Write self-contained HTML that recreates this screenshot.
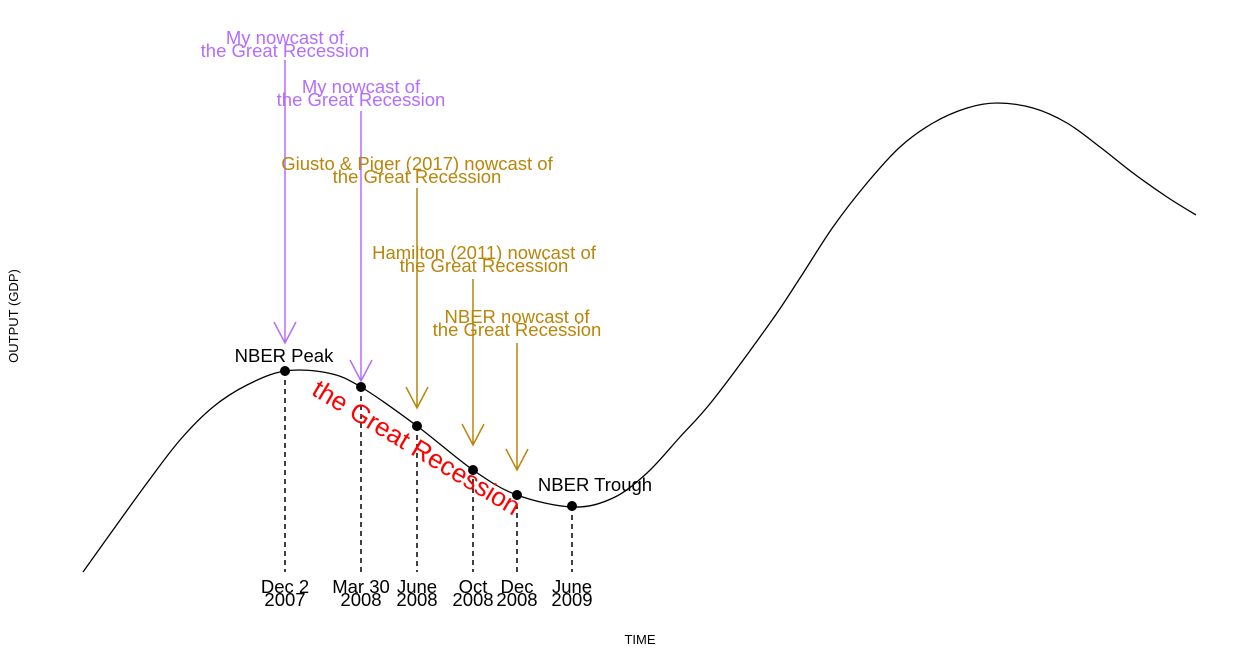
<!DOCTYPE html>
<html><head><meta charset="utf-8"><style>body{margin:0;background:#fff}svg{display:block;font-family:"Liberation Sans",sans-serif}</style></head>
<body>
<svg id="c" width="1259" height="655"></svg>
<script>
const curveX=[83,113,147,180,213,247,285,328,361,417,473,517,573,613,647,680,713,770,800,833,867,900,933,967,997,1033,1067,1100,1133,1167,1196];
const curveY=[572,530,483,440,407,385,371,373,387,426,470,495,507,498,473,437,400,323,278,227,183,147,123,108,103,108,123,147,173,197,215];
const eventX=[285,361,417,473,517,572];
const eventY=[371,387,426,470,495,506];
const eventLabel1=["Dec 2","Mar 30","June","Oct","Dec","June"];
const eventLabel2=["2007","2008","2008","2008","2008","2009"];
const arrowX=[285,361,417,473,517];
const arrowTop=[60,111,188,279,343];
const arrowTip=[343,381,408,445,470];
const arrowL1=["My nowcast of","My nowcast of","Giusto & Piger (2017) nowcast of","Hamilton (2011) nowcast of","NBER nowcast of"];
const arrowL2=["the Great Recession","the Great Recession","the Great Recession","the Great Recession","the Great Recession"];
const arrowTextX=[285,361,417,484,517];
const arrowTextY=[44,93,170,259,323];
const arrowColor=["#B46EFF","#B46EFF","#B8860B","#B8860B","#B8860B"];
const NS="http://www.w3.org/2000/svg",svg=document.getElementById('c');
function mk(t,a,p){const e=document.createElementNS(NS,t);for(const k in a)e.setAttribute(k,a[k]);(p||svg).appendChild(e);return e;}
let d="M"+curveX[0]+","+curveY[0];
for(let i=0;i<curveX.length-1;i++){const p0=i?i-1:i,p3=i+2<curveX.length?i+2:i+1;
 const c1x=curveX[i]+(curveX[i+1]-curveX[p0])/6,c1y=curveY[i]+(curveY[i+1]-curveY[p0])/6;
 const c2x=curveX[i+1]-(curveX[p3]-curveX[i])/6,c2y=curveY[i+1]-(curveY[p3]-curveY[i])/6;
 d+=` C${c1x},${c1y} ${c2x},${c2y} ${curveX[i+1]},${curveY[i+1]}`;}
const cv=mk('path',{d,fill:'none',stroke:'#000','stroke-width':1.3});


for(let i=0;i<eventX.length;i++){
 const l=mk('line',{x1:eventX[i],x2:eventX[i],y1:eventY[i],y2:572,stroke:'#000','stroke-width':1.5,'stroke-dasharray':'5,4'});
 
 
 const c=mk('circle',{cx:eventX[i],cy:eventY[i],r:5,fill:'#000'});
 
 
 const t=mk('text',{x:eventX[i],y:593,'font-size':18.5,'text-anchor':'middle'});t.textContent=eventLabel1[i];
 
 
 const t2=mk('text',{x:eventX[i],y:606,'font-size':18.5,'text-anchor':'middle'});t2.textContent=eventLabel2[i];
 
 
}
for(let i=0;i<arrowX.length;i++){
 const col=arrowColor[i],x=arrowX[i],y=arrowTip[i];
 const a=mk('path',{d:`M${x},${arrowTop[i]}V${y}M${x-11},${y-21}L${x},${y}L${x+11},${y-21}`,fill:'none',stroke:col,'stroke-width':1.5});
 
 
 const t=mk('text',{x:arrowTextX[i],y:arrowTextY[i],'font-size':18.5,'text-anchor':'middle',fill:col});t.textContent=arrowL1[i];
 
 
 const t2=mk('text',{x:arrowTextX[i],y:arrowTextY[i]+13,'font-size':18.5,'text-anchor':'middle',fill:col});t2.textContent=arrowL2[i];
 
 
}
</script>
<svg style="position:absolute;left:0;top:0" width="1259" height="655" font-family="Liberation Sans, sans-serif">
<text x="284" y="362" font-size="18.5" text-anchor="middle">NBER Peak</text>
<text x="595" y="491" font-size="18.5" text-anchor="middle">NBER Trough</text>
<text x="0" y="0" font-size="26" fill="#FF0000" text-anchor="middle" transform="translate(412,455) rotate(31)">the Great Recession</text>
<text x="0" y="0" font-size="13" text-anchor="middle" transform="translate(18,316) rotate(-90)">OUTPUT (GDP)</text>
<text x="640" y="644" font-size="13" text-anchor="middle">TIME</text>
</svg>
</body></html>
